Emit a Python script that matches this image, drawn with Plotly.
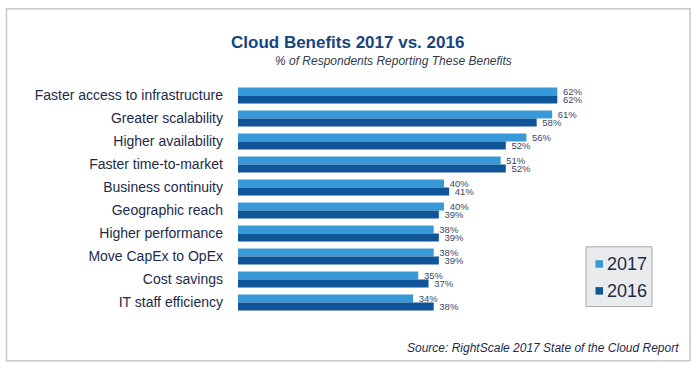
import plotly.graph_objects as go

categories = [
    "Faster access to infrastructure",
    "Greater scalability",
    "Higher availability",
    "Faster time-to-market",
    "Business continuity",
    "Geographic reach",
    "Higher performance",
    "Move CapEx to OpEx",
    "Cost savings",
    "IT staff efficiency",
]
values_2017 = [62, 61, 56, 51, 40, 40, 38, 38, 35, 34]
values_2016 = [62, 58, 52, 52, 41, 39, 39, 39, 37, 38]
series_names = ["2017", "2016"]

FIG_W, FIG_H = 696, 372
L, W = 238, 412
T, H = 83.5, 231
R = FIG_W - L - W
B = FIG_H - T - H


def px(x):
    return (x - L) / W


def py(y):
    return (T + H - y) / H


FONT = "Liberation Sans, Arial, sans-serif"
C17 = "#3799d7"
C16 = "#0f5598"
TXT = "#3a4868"
COLORS = [C17, C16]

fig = go.Figure()
for name, vals, col in zip(series_names, [values_2017, values_2016], COLORS):
    fig.add_trace(go.Bar(
        y=categories, x=vals, name=name, orientation="h",
        marker=dict(color=col, line=dict(width=0)),
        texttemplate="\u00a0%{x}%", textposition="outside", constraintext="none",
        textfont=dict(size=9.5, color=TXT, family=FONT),
        cliponaxis=False, showlegend=False,
    ))

shapes = [
    dict(type="rect", xref="paper", yref="paper",
         x0=px(6.5), x1=px(690), y0=py(361.5), y1=py(8),
         line=dict(color="#c8c8c8", width=1.5), fillcolor="rgba(0,0,0,0)", layer="below"),
    dict(type="rect", xref="paper", yref="paper",
         x0=px(586), x1=px(652), y0=py(307), y1=py(247),
         line=dict(color="#a8a8a8", width=1), fillcolor="#eaebec", layer="above"),
]
annotations = [
    dict(text="<b>Cloud Benefits 2017 vs. 2016</b>", xref="paper", yref="paper",
         x=px(347), y=py(42), xanchor="center", yanchor="middle", showarrow=False,
         font=dict(size=17, color="#17457e", family=FONT)),
    dict(text="<i>% of Respondents Reporting These Benefits</i>", xref="paper", yref="paper",
         x=px(393), y=py(60), xanchor="center", yanchor="middle", showarrow=False,
         font=dict(size=12, color="#333a4a", family=FONT)),
    dict(text="<i>Source: RightScale 2017 State of the Cloud Report</i>", xref="paper", yref="paper",
         x=px(681), y=py(349), xanchor="right", yanchor="middle", showarrow=False,
         font=dict(size=12, color="#1c2b4a", family=FONT)),
]
for i, (name, col) in enumerate(zip(series_names, COLORS)):
    cy = 264 + i * 27
    shapes.append(dict(type="rect", xref="paper", yref="paper",
                       x0=px(595.5), x1=px(603), y0=py(cy + 4), y1=py(cy - 3.5),
                       line=dict(width=0), fillcolor=col, layer="above"))
    annotations.append(dict(text=name, xref="paper", yref="paper",
                            x=px(605), y=py(cy), xanchor="left", yanchor="middle",
                            showarrow=False,
                            font=dict(size=18, color="#1c2b4a", family=FONT)))

fig.update_layout(
    width=FIG_W, height=FIG_H,
    margin=dict(l=L, r=R, t=T, b=B, pad=0),
    paper_bgcolor="white", plot_bgcolor="white",
    barmode="group", bargap=0.3, bargroupgap=0,
    font=dict(family=FONT, color=TXT),
    showlegend=False,
    xaxis=dict(range=[0, 80], visible=False, fixedrange=True),
    yaxis=dict(
        autorange="reversed", showgrid=False, zeroline=False, showline=False,
        ticks="", ticklabelstandoff=14, fixedrange=True,
        tickfont=dict(size=14, color="#1c2b4a", family=FONT),
    ),
    shapes=shapes,
    annotations=annotations,
)

fig.write_html(
    "out.html",
    config={"displayModeBar": False},
    post_script="document.body.style.margin='0';document.body.style.overflow='hidden';",
)
